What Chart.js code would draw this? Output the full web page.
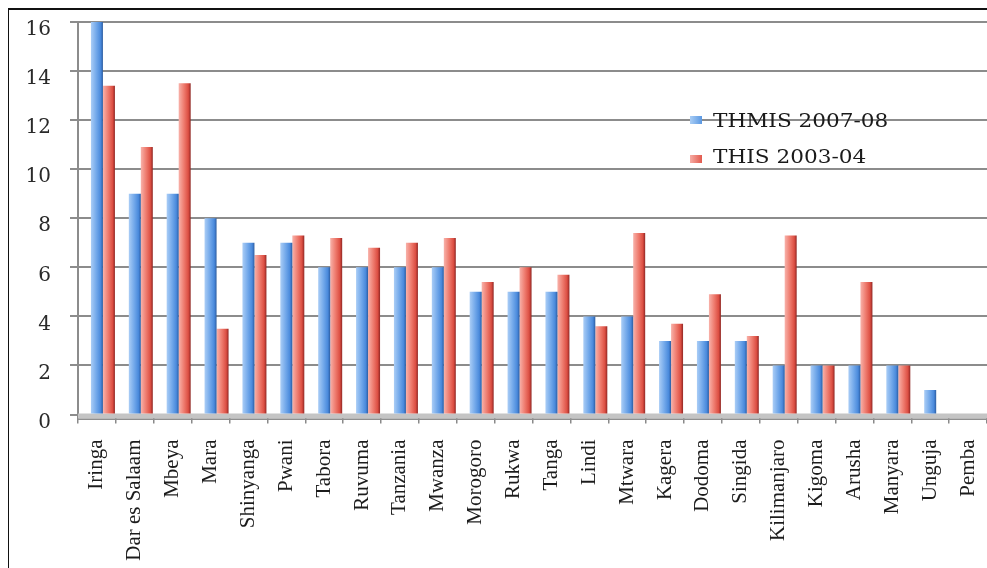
<!DOCTYPE html>
<html>
<head>
<meta charset="utf-8">
<script src="https://cdn.jsdelivr.net/npm/chart.js@4/dist/chart.umd.min.js"></script>
<style>
  html, body { margin:0; padding:0; background:#fff; }
  #wrap { position:absolute; left:0; top:0; width:987px; height:568px; overflow:hidden; }
  #frame { position:absolute; left:8px; top:8px; width:1200px; height:800px; border-left:1.5px solid #111; border-top:2px solid #111; }
  canvas { position:absolute; left:0; top:0; }
  .lg { position:absolute; font-family:"DejaVu Serif", serif; font-size:18px; line-height:18px; color:#1a1a1a; white-space:nowrap; transform:scaleX(1.2); transform-origin:left top; }
  .sw { position:absolute; width:12px; height:8px; }
</style>
</head>
<body>
<div id="wrap">
  <div id="frame"></div>
  <canvas id="c" width="987" height="568"></canvas>
  <div class="sw" style="left:690px;top:116px;background:linear-gradient(90deg,#a9cdf5,#5a98e2);"></div>
  <div class="lg" style="left:713px;top:112px;">THMIS 2007-08</div>
  <div class="sw" style="left:690px;top:155px;background:linear-gradient(90deg,#f6aca4,#e25a4e);"></div>
  <div class="lg" style="left:713px;top:148px;">THIS 2003-04</div>
</div>
<script>
const regions = ["Iringa","Dar es Salaam","Mbeya","Mara","Shinyanga","Pwani","Tabora","Ruvuma","Tanzania","Mwanza","Morogoro","Rukwa","Tanga","Lindi","Mtwara","Kagera","Dodoma","Singida","Kilimanjaro","Kigoma","Arusha","Manyara","Unguja","Pemba"];
const thmis2007 = [16,9,9,8,7,7,6,6,6,6,5,5,5,4,4,3,3,3,2,2,2,2,1,0];
const this2003 = [13.4,10.9,13.5,3.5,6.5,7.3,7.2,6.8,7.0,7.2,5.4,6.0,5.7,3.6,7.4,3.7,4.9,3.2,7.3,2.0,5.4,2.0,0,0];
const seriesNames = ["THMIS 2007-08","THIS 2003-04"];
const yTicks = [0,2,4,6,8,10,12,14,16];

const CAT_PCT = 0.95;
function barGradient(ctx, slot, stops) {
  const chart = ctx.chart;
  const xs = chart.scales && chart.scales.x;
  if (!xs || ctx.type !== 'data' || !isFinite(xs.left)) return stops[1][1];
  const cw = (xs.right - xs.left) / regions.length;
  const cx = xs.getPixelForValue(ctx.dataIndex);
  const sw = cw * CAT_PCT / 3;
  const left = cx - 1.5 * sw + slot * sw;
  const g = chart.ctx.createLinearGradient(left, 0, left + sw, 0);
  stops.forEach(s => g.addColorStop(s[0], s[1]));
  return g;
}
const blueStops = [[0,'#aacdf6'],[0.45,'#72a8ea'],[0.8,'#4a8adc'],[0.9,'#3b74c2'],[1,'#2d5c9c']];
const redStops = [[0,'#f8b2aa'],[0.45,'#ee7a6d'],[0.8,'#dc4f43'],[0.9,'#b83a33'],[1,'#8e2824']];

const floorPlugin = {
  id: 'floor',
  beforeDatasetsDraw(chart) {
    const {ctx, chartArea} = chart;
    const y = chart.scales.y.getPixelForValue(0);
    ctx.save();
    ctx.fillStyle = '#c4c4c4';
    ctx.fillRect(chartArea.left, y - 1, chartArea.right - chartArea.left, 5);
    ctx.fillStyle = '#8f8f8f';
    ctx.fillRect(chartArea.left, y + 4, chartArea.right - chartArea.left, 1.5);
    ctx.restore();
  }
};

new Chart(document.getElementById('c'), {
  type: 'bar',
  data: {
    labels: regions,
    datasets: [
      { label: '', data: regions.map(() => null), backgroundColor: 'rgba(0,0,0,0)' },
      { label: seriesNames[0], data: thmis2007, backgroundColor: c => barGradient(c, 1, blueStops) },
      { label: seriesNames[1], data: this2003, backgroundColor: c => barGradient(c, 2, redStops) }
    ]
  },
  options: {
    responsive: false,
    animation: false,
    devicePixelRatio: 1,
    datasets: { bar: { categoryPercentage: CAT_PCT, barPercentage: 1.0, borderWidth: 0 } },
    layout: { padding: { left: 26, right: 0, top: 22, bottom: 0 } },
    plugins: { legend: { display: false }, tooltip: { enabled: false } },
    scales: {
      x: {
        grid: { display: true, drawOnChartArea: false, drawTicks: true, tickLength: 9, color: '#8a8a8a', lineWidth: 1.5 },
        border: { display: true, color: '#9a9a9a', width: 1.5 },
        ticks: { autoSkip: false, maxRotation: 90, minRotation: 90, padding: 16, color: '#1c1c1c',
                 font: { family: '"Liberation Serif", "Times New Roman", serif', size: 21 } },
        afterFit: s => { s.height = 153.5; s.paddingLeft = 0; s.paddingRight = 0; }
      },
      y: {
        min: 0, max: 16,
        afterBuildTicks: s => { s.ticks = yTicks.map(v => ({ value: v })); },
        grid: { color: '#8c8c8c', lineWidth: 2, drawTicks: true, tickLength: 8 },
        border: { display: true, color: '#8c8c8c', width: 2 },
        ticks: { padding: 19, labelOffset: 8, color: '#2a2a2a',
                 font: { family: '"DejaVu Serif", serif', size: 20 } },
        afterFit: s => { s.width = 52; s.paddingTop = 0; s.paddingBottom = 0; }
      }
    }
  },
  plugins: [floorPlugin]
});
</script>
</body>
</html>
